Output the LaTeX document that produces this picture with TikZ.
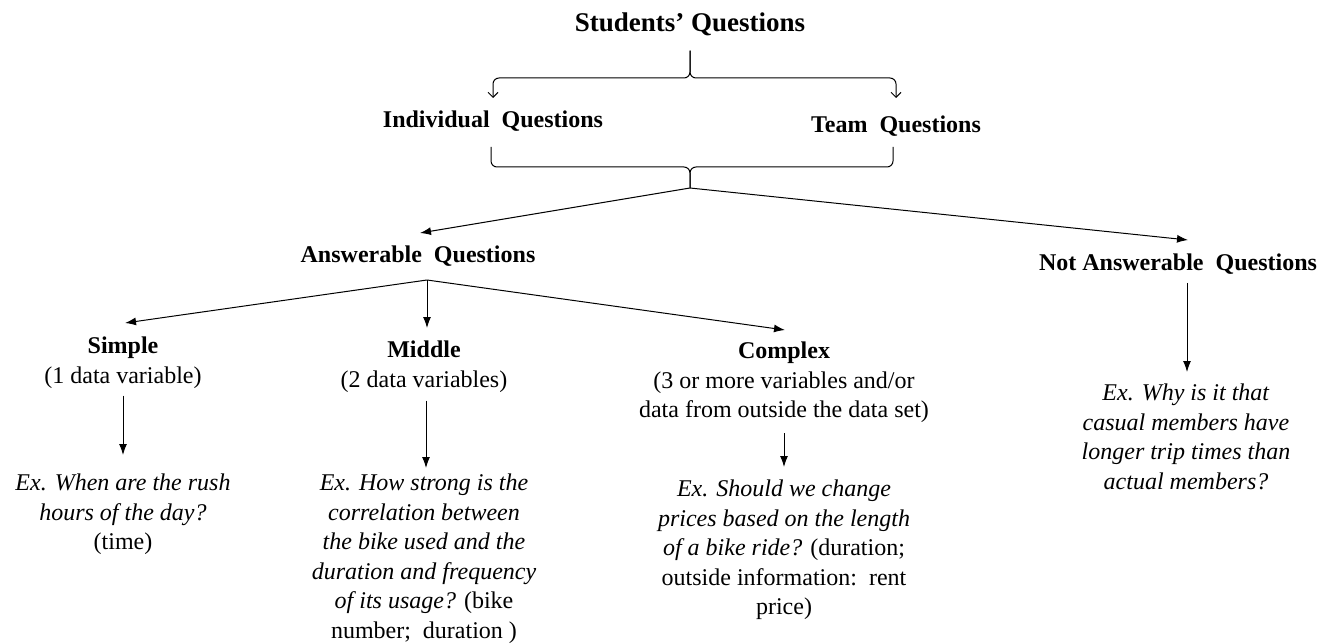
\documentclass[tikz,border=0pt]{standalone}
\usepackage{fontspec}
\setmainfont{Liberation Serif}
\usetikzlibrary{arrows.meta}

\begin{document}
\begin{tikzpicture}[x=1pt,y=-1pt,
    txt/.style={anchor=north, align=center, inner sep=0pt, font=\fontsize{24}{29.5}\selectfont},
    head/.style={txt, font=\fontsize{24}{29.5}\selectfont\bfseries},
    arr/.style={-{Latex[length=11pt,width=8pt]}, line width=1pt},
    brace/.style={rounded corners=6pt, line width=1pt}]
    \useasboundingbox (0,0) rectangle (1332,644);

    % top levels
    \node[head, font=\fontsize{27}{30}\selectfont\bfseries] (title) at (690,13) {Students' Questions};
    \node[head] (indiv) at (493,111) {Individual\ \ Questions};
    \node[head] (team) at (896,116) {Team\ \ Questions};
    \node[head] (ans) at (418,246) {Answerable\ \ Questions};
    \node[head] (notans) at (1178,254) {Not Answerable\ \ Questions};

    % kinds of answerable questions
    \node[txt] (simple) at (123,337) {\textbf{Simple}\\(1 data variable)};
    \node[txt] (middle) at (424,341) {\textbf{Middle}\\(2 data variables)};
    \node[txt] (complex) at (784,342) {\textbf{Complex}\\(3 or more variables and/or\\data from outside the data set)};

    % examples
    \node[txt] (exsimple) at (123,474) {\textit{Ex. When are the rush}\\\textit{hours of the day?}\\(time)};
    \node[txt] (exmiddle) at (424,474) {\textit{Ex. How strong is the}\\\textit{correlation between}\\\textit{the bike used and the}\\\textit{duration and frequency}\\\textit{of its usage?} (bike\\number;\ \ duration )};
    \node[txt] (excomplex) at (784,480) {\textit{Ex. Should we change}\\\textit{prices based on the length}\\\textit{of a bike ride?} (duration;\\outside information:\ \ rent\\price)};
    \node[txt] (exnot) at (1186,384) {\textit{Ex. Why is it that}\\\textit{casual members have}\\\textit{longer trip times than}\\\textit{actual members?}};

    % braces
    \draw[brace, -{Straight Barb[length=5pt,width=10pt]}, shorten >=13pt] (title.south) ++(0,14) |- (indiv.north |- 0,78) -- (indiv.north);
    \draw[brace, -{Straight Barb[length=5pt,width=10pt]}, shorten >=18pt] (title.south) ++(0,14) |- (team.north |- 0,78) -- (team.north);
    \coordinate (fork) at (690,188);
    \draw[brace] (491,147) |- (690,167) -- (fork);
    \draw[brace] (893,147) |- (690,167) -- (fork);

    \draw[arr] (fork) -- ([xshift=2pt,yshift=13pt]ans.north);
    \draw[arr] (fork) -- ([xshift=10pt,yshift=14pt]notans.north);

    \coordinate (ansfork) at (427,280);
    \draw[arr] (ansfork) -- ([xshift=2pt,yshift=14pt]simple.north);
    \draw[arr] (ansfork) -- ([xshift=3pt,yshift=13pt]middle.north);
    \draw[arr] (ansfork) -- ([xshift=1pt,yshift=12pt]complex.north);

    \draw[arr, shorten <=7pt, shorten >=19pt] (simple) -- (exsimple);
    \draw[arr, shorten <=8pt, shorten >=6pt] ([xshift=2pt]middle.south) -- ([xshift=2pt]exmiddle.north);
    \draw[arr, shorten <=10pt, shorten >=13pt] (complex) -- (excomplex);
    \draw[arr, shorten <=8pt, shorten >=12pt] ([xshift=9pt]notans.south) -- ([xshift=1pt]exnot.north);
\end{tikzpicture}
\end{document}
